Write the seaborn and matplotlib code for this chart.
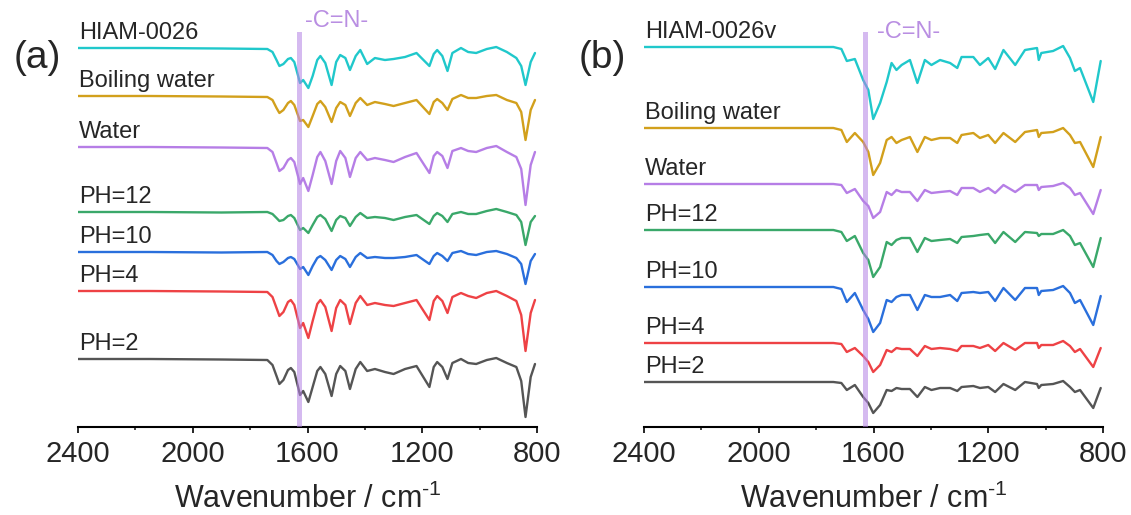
import pandas as pd
import matplotlib
matplotlib.use("Agg")
import matplotlib.pyplot as plt
import seaborn as sns
from matplotlib.ticker import MultipleLocator

# wavenumber grids (cm-1)
wn_a = [2400, 2150, 1900, 1740, 1722, 1708, 1698, 1684, 1668, 1658,
        1646, 1626, 1615, 1597, 1582, 1566, 1555, 1538, 1516, 1500,
        1486, 1468, 1452, 1432, 1416, 1392, 1365, 1330, 1300, 1260,
        1220, 1175, 1160, 1148, 1130, 1112, 1095, 1065, 1040, 1012,
        975, 942, 905, 872, 855, 840, 822, 807]
wn_b = [2400, 1740, 1712, 1693, 1665, 1636, 1618, 1601, 1577, 1554, 1537, 1520, 1502, 1473,
        1447, 1421, 1398, 1368, 1333, 1308, 1293, 1252, 1229, 1200, 1176, 1147, 1106,
        1072, 1030, 1024, 1015, 974, 939, 915, 898, 880, 834, 808]

labels_a = ["HIAM-0026", "Boiling water", "Water", "PH=12", "PH=10", "PH=4", "PH=2"]
labels_b = ["HIAM-0026v", "Boiling water", "Water", "PH=12", "PH=10", "PH=4", "PH=2"]
colors = ["#20c8cb", "#d2a01c", "#b67ee6", "#3aa86a", "#2a6fdc", "#ee4245", "#555555"]

# stacking offsets (baseline height of each trace)
offsets_a = [379, 331, 280, 215, 175, 136, 68]
offsets_b = [380, 299, 243, 197, 140, 84, 45]

# band depths below baseline, panel (a)
a_hiam = [0, 0, 0.5, 1, 4, 12, 18, 16, 11, 10, 14, 35, 32, 40, 28, 12, 8, 15, 37, 14,
          7, 10, 22, 8, 2, 16, 10, 12, 11, 9, 5, 18, 6, 2, 8, 23, 5, 0, 4, 5,
          1, -1, 4, 10, 18, 37, 14, 5]
a_boil = [0, 0, 0.5, 1, 4, 12, 17, 14, 7, 5, 9, 25, 24, 31, 20, 8, 5, 11, 26, 12,
          6, 9, 20, 7, 2, 9, 6, 8, 10, 7, 4, 18, 6, 3, 7, 14, 3, -1, 2, 2,
          0, -1, 4, 7, 16, 44, 14, 4]
a_water = [0, 0, 0.5, 1, 5, 16, 24, 21, 13, 11, 15, 37, 31, 44, 28, 10, 5, 14, 37, 14,
           4, 11, 30, 11, 5, 13, 11, 13, 15, 10, 6, 26, 9, 5, 9, 21, 4, 1, 4, 5,
           1, -1, 5, 10, 22, 58, 18, 5]
a_ph12 = [0, 0, 0.5, 0, 2, 6, 9, 8, 4, 3, 6, 18, 16, 21, 13, 5, 3, 7, 19, 8,
          4, 6, 14, 5, 1, 6, 5, 6, 8, 5, 3, 12, 4, 1, 4, 10, 2, 0, 2, 2,
          -1, -3, 0, 3, 10, 33, 10, 4]
a_ph10 = [0, 0, 0.5, 0, 3, 9, 12, 10, 6, 5, 7, 17, 15, 23, 14, 6, 4, 8, 18, 8,
          4, 7, 15, 5, 1, 6, 5, 6, 6, 5, 3, 12, 4, 1, 4, 9, 1, -1, 2, 3,
          0, -1, 2, 6, 12, 32, 9, 2]
a_ph4 = [0, 0, 0.5, 1, 6, 17, 25, 21, 11, 9, 14, 37, 32, 47, 30, 13, 9, 16, 40, 17,
         9, 14, 33, 12, 5, 14, 12, 14, 15, 12, 9, 29, 10, 5, 10, 22, 6, 2, 5, 7,
         2, 0, 5, 10, 24, 60, 22, 9]
a_ph2 = [0, 0, 0.5, 1, 6, 17, 25, 21, 11, 9, 13, 36, 32, 43, 28, 12, 8, 15, 37, 15,
         7, 12, 30, 10, 3, 12, 10, 13, 15, 10, 7, 28, 8, 3, 8, 20, 4, 0, 4, 5,
         1, -1, 4, 8, 22, 58, 18, 5]

# panel (b)
b_hiam = [0, 0, 2, 14, 12, 33, 43, 72, 56, 35, 16, 23, 18, 13, 36, 13, 18, 13, 16, 21, 10, 10,
          18, 11, 22, 3, 18, 3, 1, 13, 6, 4, -1, 11, 24, 21, 55, 14]
b_boil = [0, 0, 2, 14, 5, 14, 24, 47, 35, 12, 9, 15, 12, 9, 24, 9, 12, 10, 10, 15, 7, 5,
          10, 7, 15, 5, 14, 4, 2, 9, 5, 4, 0, 7, 15, 14, 39, 9]
b_water = [0, 0, 1, 9, 5, 17, 22, 34, 28, 8, 11, 6, 8, 8, 17, 6, 9, 8, 7, 11, 4, 4,
           8, 4, 9, 1, 8, 1, 1, 6, 3, 2, -1, 4, 11, 9, 30, 6]
b_ph12 = [0, 0, 2, 11, 6, 23, 30, 47, 37, 12, 15, 10, 8, 8, 22, 8, 11, 10, 9, 13, 7, 6,
          5, 4, 13, 2, 12, 2, 3, 6, 4, 4, 0, 6, 15, 13, 37, 8]
b_ph10 = [0, 0, 2, 15, 6, 23, 32, 45, 36, 13, 15, 10, 8, 8, 23, 8, 10, 10, 8, 14, 6, 5,
          6, 5, 14, 1, 13, 1, 1, 8, 4, 3, -1, 6, 16, 13, 38, 9]
b_ph4 = [0, 0, 1, 9, 5, 13, 19, 29, 22, 7, 9, 5, 6, 6, 13, 3, 6, 5, 6, 8, 3, 3,
         5, 2, 8, 0, 7, 0, 0, 5, 2, 2, -2, 3, 9, 6, 24, 5]
b_ph2 = [0, 0, 1, 8, 3, 15, 21, 31, 23, 8, 9, 6, 7, 7, 15, 5, 8, 6, 6, 9, 5, 4,
         6, 5, 10, 2, 8, 0, 2, 6, 3, 2, -1, 5, 10, 8, 26, 6]

series_a = [a_hiam, a_boil, a_water, a_ph12, a_ph10, a_ph4, a_ph2]
series_b = [b_hiam, b_boil, b_water, b_ph12, b_ph10, b_ph4, b_ph2]

sns.set_style("white")
plt.rcParams["font.family"] = ["Liberation Sans", "DejaVu Sans"]
plt.rcParams["mathtext.fontset"] = "custom"
plt.rcParams["mathtext.rm"] = "Liberation Sans"


def montar(wn, series, offsets, labels):
    linhas = []
    for nome, vals, off in zip(labels, series, offsets):
        for x, d in zip(wn, vals):
            linhas.append({"wn": x, "y": off - d, "amostra": nome})
    return pd.DataFrame(linhas)


def painel(ax, wn, series, offsets, labels, cn_x, cn_va):
    df = montar(wn, series, offsets, labels)
    sns.lineplot(data=df, x="wn", y="y", hue="amostra", hue_order=labels,
                 palette=colors, estimator=None, sort=False, legend=False,
                 linewidth=1.7, ax=ax)
    ax.axvspan(1620, 1638, color="#b482e4", alpha=0.55, lw=0, zorder=5)
    for nome, off in zip(labels, offsets):
        ax.text(2396, off + 9, nome, fontsize=17, ha="left", va="baseline")
    ax.text(cn_x, 395, "-C=N-", color="#b98ee2", fontsize=17, ha="left", va=cn_va)
    ax.set_xlim(2400, 800)
    ax.set_ylim(0, 395)
    ax.xaxis.set_major_locator(MultipleLocator(400))
    ax.xaxis.set_minor_locator(MultipleLocator(200))
    ax.tick_params(axis="x", which="major", direction="out", length=4.5, width=1.4,
                   labelsize=21, pad=5, bottom=True)
    ax.tick_params(axis="x", which="minor", direction="out", length=2.2, width=1.2, bottom=True)
    ax.set_yticks([])
    ax.set_ylabel("")
    ax.set_xlabel(r"Wavenumber / cm$^{\text{-1}}$", fontsize=22, labelpad=11)
    for lado in ["left", "top", "right"]:
        ax.spines[lado].set_visible(False)
    ax.spines["bottom"].set_linewidth(1.5)
    ax.spines["bottom"].set_color("black")
    ax.patch.set_alpha(0)


fig = plt.figure(figsize=(11.31, 5.15), dpi=100)
ax_a = fig.add_axes([78 / 1131, 1 - 427 / 515, 459 / 1131, 395 / 515])
ax_b = fig.add_axes([644 / 1131, 1 - 427 / 515, 459 / 1131, 395 / 515])

painel(ax_a, wn_a, series_a, offsets_a, labels_a, 1609, "bottom")
painel(ax_b, wn_b, series_b, offsets_b, labels_b, 1589, "center")

fig.text(37 / 1131, 1 - 58 / 515, "(a)", fontsize=28, ha="center", va="center")
fig.text(602 / 1131, 1 - 58 / 515, "(b)", fontsize=28, ha="center", va="center")

fig.savefig("out.png", dpi=100, facecolor="white")
